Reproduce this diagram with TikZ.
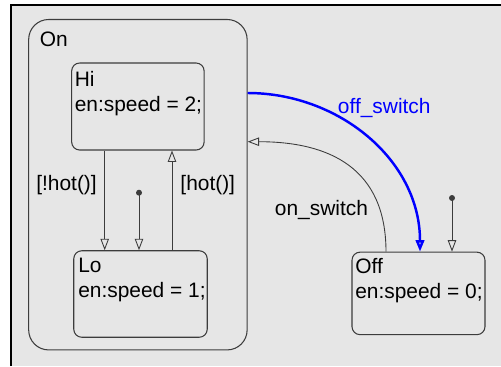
\documentclass[tikz,border=0pt]{standalone}
\usepackage{fontspec}
\setmainfont{Liberation Sans}
\usetikzlibrary{arrows.meta}
\definecolor{fondGris}{RGB}{230,230,230}
\definecolor{traitGris}{RGB}{60,60,60}
\definecolor{bleuTrans}{RGB}{0,0,255}

\begin{document}
\begin{tikzpicture}[x=0.02cm,y=-0.02cm,font=\fontsize{11.9}{13.7}\selectfont,
  etat/.style={draw=traitGris,line width=0.6pt,rounded corners=0.16cm,inner sep=0pt},
  texte/.style={anchor=base west,inner sep=0pt,align=left},
  trans/.style={draw=traitGris,line width=0.5pt,-{Triangle[open,length=6.5pt,width=4.8pt]}},
  garde/.style={inner sep=0pt}]
  \useasboundingbox (0,0) rectangle (501,366);
  % Fond et cadre
  \fill[fondGris] (11,5) rectangle (501,366);
  \draw[black,line width=0.8pt] (11,366)--(11,5)--(501,5);

  % Etat On et ses sous-etats
  \node[etat,rounded corners=0.4cm,minimum width=4.37cm,minimum height=6.61cm] (on) at (137.9,184.7) {};
  \node[texte] (ontxt) at (39.5,46.7) {On};
  \node[etat,minimum width=2.65cm,minimum height=1.74cm] (hi) at (137.9,106.5) {};
  \node[texte] (hitxt) at (74.4,111) {Hi\\en:speed = 2;};
  \node[etat,minimum width=2.67cm,minimum height=1.73cm] (lo) at (140.5,294) {};
  \node[texte] (lotxt) at (78,297) {Lo\\en:speed = 1;};

  % Etat Off
  \node[etat,minimum width=2.66cm,minimum height=1.65cm] (off) at (418.5,293.4) {};
  \node[texte] (offtxt) at (355,298) {Off\\en:speed = 0;};

  % Transitions Hi / Lo
  \draw[trans] (104.7,0 |- hi.south) -- node[garde,pos=0.4,anchor=base east,xshift=-0.15cm] {[!hot()]} (104.7,0 |- lo.north);
  \draw[trans] (172,0 |- lo.north) -- node[garde,pos=0.6,anchor=base west,xshift=0.16cm] {[hot()]} (172,0 |- hi.south);

  % Transitions par defaut
  \coordinate (lodef) at (139,192.7);
  \fill[traitGris] (lodef) circle (3);
  \draw[trans] (lodef) -- (lodef |- lo.north);
  \coordinate (offdef) at (452,198);
  \fill[traitGris] (offdef) circle (3);
  \draw[trans] (offdef) -- (offdef |- off.north);

  % Transitions On / Off
  \draw[trans,draw=bleuTrans,line width=1.4pt] (on.east |- 0,93) to[out=0,in=90]
    node[garde,pos=0.35,anchor=base west,yshift=0.056cm,text=bleuTrans] {off\_switch} (420,0 |- off.north);
  \draw[trans] (386,0 |- off.north) to[out=90,in=0,looseness=1.2]
    node[garde,pos=0.15,anchor=base east,xshift=-0.28cm,yshift=0.06cm] {on\_switch} (on.east |- 0,141.7);
\end{tikzpicture}
\end{document}
